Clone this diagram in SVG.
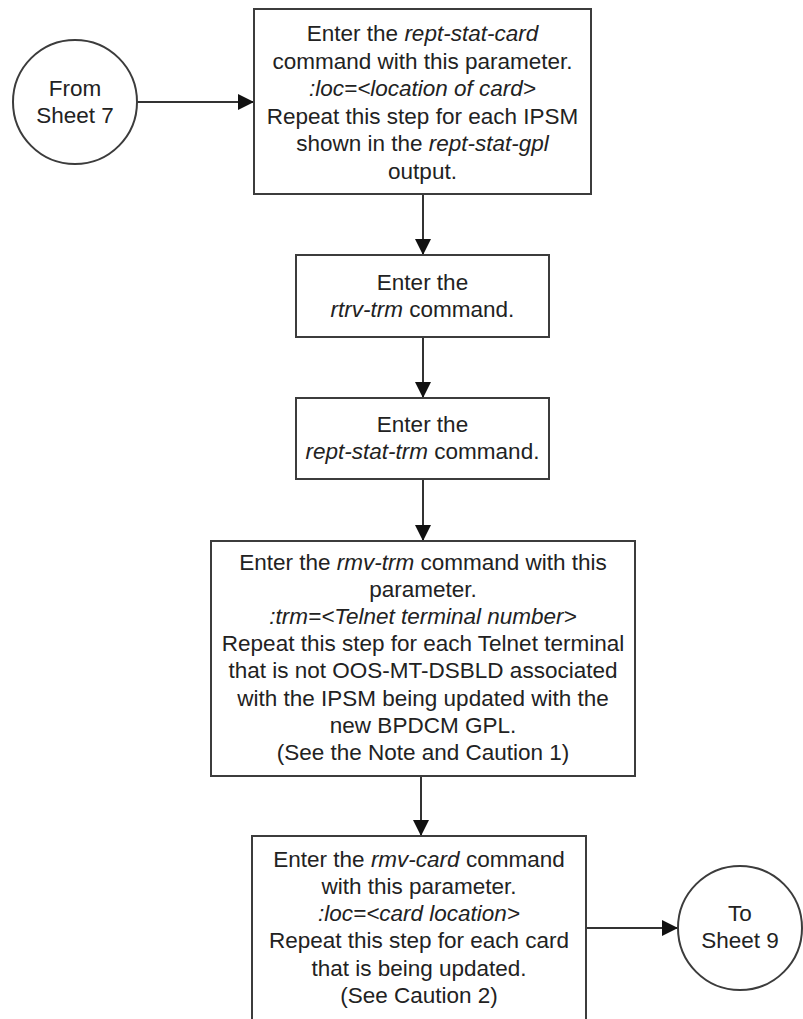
<svg xmlns="http://www.w3.org/2000/svg" width="803" height="1019" viewBox="0 0 803 1019">
  <defs>
    <style>
      .box { fill: #ffffff; stroke: #3c3c3c; stroke-width: 2; }
      .conn { fill: none; stroke: #333333; stroke-width: 2; }
      .lbl { font-family: "Liberation Sans", Arial, sans-serif; font-size: 22.5px; fill: #222222; text-anchor: middle; }
      .cmd { font-style: italic; }
    </style>
    <marker id="arrow" viewBox="0 0 16 16" refX="16" refY="8" markerWidth="16" markerHeight="16" markerUnits="userSpaceOnUse" orient="auto">
      <path d="M0,0 L16,8 L0,16 Z" fill="#111111"/>
    </marker>
  </defs>
  <rect width="803" height="1019" fill="#ffffff"/>

  <!-- connectors -->
  <g id="connectors">
    <line class="conn" x1="137" y1="102" x2="254" y2="102" marker-end="url(#arrow)"/>
    <line class="conn" x1="423" y1="194" x2="423" y2="255" marker-end="url(#arrow)"/>
    <line class="conn" x1="423" y1="337" x2="423" y2="398" marker-end="url(#arrow)"/>
    <line class="conn" x1="423" y1="479" x2="423" y2="541" marker-end="url(#arrow)"/>
    <line class="conn" x1="421" y1="776" x2="421" y2="836" marker-end="url(#arrow)"/>
    <line class="conn" x1="586" y1="928" x2="678" y2="928" marker-end="url(#arrow)"/>
  </g>

  <!-- off-page connector: entry -->
  <g id="from-sheet-7">
    <circle cx="75" cy="102" r="62" fill="#ffffff" stroke="#3c3c3c" stroke-width="2"/>
    <text class="lbl" x="75" y="96">From</text>
    <text class="lbl" x="75" y="123">Sheet 7</text>
  </g>

  <!-- step: rept-stat-card -->
  <g id="rept-stat-card">
    <rect class="box" x="254" y="9" width="337" height="185"/>
    <text class="lbl" x="422.5" y="41">Enter the <tspan class="cmd">rept-stat-card</tspan></text>
    <text class="lbl" x="422.5" y="68.5">command with this parameter.</text>
    <text class="lbl cmd" x="422.5" y="96">:loc=&lt;location of card&gt;</text>
    <text class="lbl" x="422.5" y="123.5">Repeat this step for each IPSM</text>
    <text class="lbl" x="422.5" y="151">shown in the <tspan class="cmd">rept-stat-gpl</tspan></text>
    <text class="lbl" x="422.5" y="178.5">output.</text>
  </g>

  <!-- step: rtrv-trm -->
  <g id="rtrv-trm">
    <rect class="box" x="296" y="255" width="253" height="82"/>
    <text class="lbl" x="422.5" y="290">Enter the</text>
    <text class="lbl" x="422.5" y="317"><tspan class="cmd">rtrv-trm</tspan> command.</text>
  </g>

  <!-- step: rept-stat-trm -->
  <g id="rept-stat-trm">
    <rect class="box" x="296" y="398" width="253" height="81"/>
    <text class="lbl" x="422.5" y="432">Enter the</text>
    <text class="lbl" x="422.5" y="459"><tspan class="cmd">rept-stat-trm</tspan> command.</text>
  </g>

  <!-- step: rmv-trm -->
  <g id="rmv-trm">
    <rect class="box" x="211" y="541" width="424" height="235"/>
    <text class="lbl" x="423" y="570">Enter the <tspan class="cmd">rmv-trm</tspan> command with this</text>
    <text class="lbl" x="423" y="597.1">parameter.</text>
    <text class="lbl cmd" x="423" y="624.2">:trm=&lt;Telnet terminal number&gt;</text>
    <text class="lbl" x="423" y="651.3">Repeat this step for each Telnet terminal</text>
    <text class="lbl" x="423" y="678.4">that is not OOS-MT-DSBLD associated</text>
    <text class="lbl" x="423" y="705.5">with the IPSM being updated with the</text>
    <text class="lbl" x="423" y="732.6">new BPDCM GPL.</text>
    <text class="lbl" x="423" y="759.7">(See the Note and Caution 1)</text>
  </g>

  <!-- step: rmv-card -->
  <g id="rmv-card">
    <rect class="box" x="252" y="836" width="334" height="190"/>
    <text class="lbl" x="419" y="867">Enter the <tspan class="cmd">rmv-card</tspan> command</text>
    <text class="lbl" x="419" y="894">with this parameter.</text>
    <text class="lbl cmd" x="419" y="921">:loc=&lt;card location&gt;</text>
    <text class="lbl" x="419" y="948">Repeat this step for each card</text>
    <text class="lbl" x="419" y="975.5">that is being updated.</text>
    <text class="lbl" x="419" y="1002.5">(See Caution 2)</text>
  </g>

  <!-- off-page connector: exit -->
  <g id="to-sheet-9">
    <circle cx="740" cy="928" r="62" fill="#ffffff" stroke="#3c3c3c" stroke-width="2"/>
    <text class="lbl" x="740" y="921">To</text>
    <text class="lbl" x="740" y="948">Sheet 9</text>
  </g>
</svg>
